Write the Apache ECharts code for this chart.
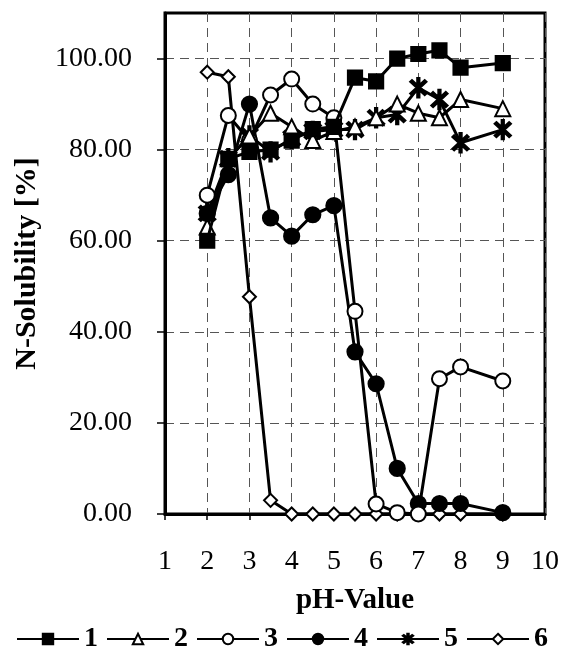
<!DOCTYPE html>
<html>
<head>
<meta charset="utf-8">
<script src="https://cdn.jsdelivr.net/npm/echarts@6/dist/echarts.min.js"></script>
<style>
  html, body { margin: 0; padding: 0; background: #fff; }
  #chart { width: 564px; height: 669px; }
</style>
</head>
<body>
<div id="chart"></div>
<script>
// pH values measured
const ph = [2, 2.5, 3, 3.5, 4, 4.5, 5, 5.5, 6, 6.5, 7, 7.5, 8, 9]

// N-solubility [%] per sample
const s1 = [60, 78, 79.5, 80, 82, 84.5, 85, 95.8, 95, 100, 101, 101.8, 98, 99]
const s2 = [63, 78, 83, 88, 85, 82, 84, 85, 87, 90, 88, 87, 91, 89]
const s3 = [70, 87.5, 82, 92, 95.5, 90, 87, 44.5, 2.2, 0.3, 0, 29.7, 32.3, 29.2]
const s4 = [66, 74.5, 90, 65, 61, 65.7, 67.7, 35.6, 28.6, 10, 2.3, 2.3, 2.3, 0.3]
const s5 = [66, 78, 83, 79.5, 82.5, 84, 84.4, 84.4, 87, 87.7, 93.6, 91, 81.5, 84.4]
const s6 = [97, 96, 47.7, 3, 0, 0, 0, 0, 0, 0, 0, 0, 0, 0]

const names = ['1', '2', '3', '4', '5', '6']
const yTicks = [0, 20, 40, 60, 80, 100]

// asterisk marker: vertical bar plus an X
const star = 'path://M-1.1 -10 L1.1 -10 L1.1 10 L-1.1 10 Z ' +
  'M-6.2 -7.8 L7.8 6.2 L6.2 7.8 L-7.8 -6.2 Z ' +
  'M7.8 -6.2 L-6.2 7.8 L-7.8 6.2 L6.2 -7.8 Z'

const symbols = [
  { symbol: 'rect', size: 14 },
  { symbol: 'emptyTriangle', size: 15 },
  { symbol: 'emptyCircle', size: 15 },
  { symbol: 'circle', size: 15 },
  { symbol: star, size: [16, 19] },
  { symbol: 'emptyDiamond', size: 13 }
]

const font = 'Liberation Serif'
const chart = echarts.init(document.getElementById('chart'))

const series = [s1, s2, s3, s4, s5, s6].map((vals, i) => ({
  name: names[i],
  type: 'line',
  data: ph.map((x, j) => [x, vals[j]]),
  symbol: symbols[i].symbol,
  symbolSize: symbols[i].size,
  showAllSymbol: true,
  lineStyle: { color: '#000', width: 3 },
  itemStyle: { color: '#000', borderColor: '#000', borderWidth: 2.2 },
  emphasis: { disabled: true },
  z: 10 - i
}))

chart.setOption({
  animation: false,
  backgroundColor: '#fff',
  grid: {
    left: 165, right: 19, top: 13, bottom: 155,
    show: true, borderColor: '#000', borderWidth: 3
  },
  legend: {
    bottom: 11,
    left: 'center',
    itemWidth: 62,
    itemHeight: 13,
    itemGap: 8,
    textStyle: { fontFamily: font, fontWeight: 'bold', fontSize: 28, color: '#000' },
    data: names
  },
  xAxis: {
    type: 'value',
    min: 1, max: 10, interval: 1,
    name: 'pH-Value',
    nameLocation: 'middle',
    nameGap: 72,
    nameTextStyle: { fontFamily: font, fontWeight: 'bold', fontSize: 29, color: '#000' },
    axisLine: { lineStyle: { color: '#000', width: 3 } },
    axisTick: { show: true, length: 6, lineStyle: { color: '#000', width: 1.5 } },
    axisLabel: { fontFamily: font, fontSize: 28, color: '#000', margin: 34 },
    splitLine: { show: true, lineStyle: { color: '#555', type: [9, 6], width: 1 } }
  },
  yAxis: {
    type: 'value',
    min: 0, max: 110, interval: 20,
    name: 'N-Solubility [%]',
    nameLocation: 'middle',
    nameGap: 123,
    nameTextStyle: { fontFamily: font, fontWeight: 'bold', fontSize: 30, color: '#000' },
    axisLine: { show: true, lineStyle: { color: '#000', width: 3 } },
    axisTick: {
      show: true, length: 8, customValues: yTicks,
      lineStyle: { color: '#000', width: 1.5 }
    },
    axisLabel: {
      fontFamily: font, fontSize: 28, color: '#000', margin: 33,
      customValues: yTicks,
      formatter: v => v.toFixed(2)
    },
    splitLine: { show: true, lineStyle: { color: '#555', type: [9, 6], width: 1 } }
  },
  series: series
})
</script>
</body>
</html>
